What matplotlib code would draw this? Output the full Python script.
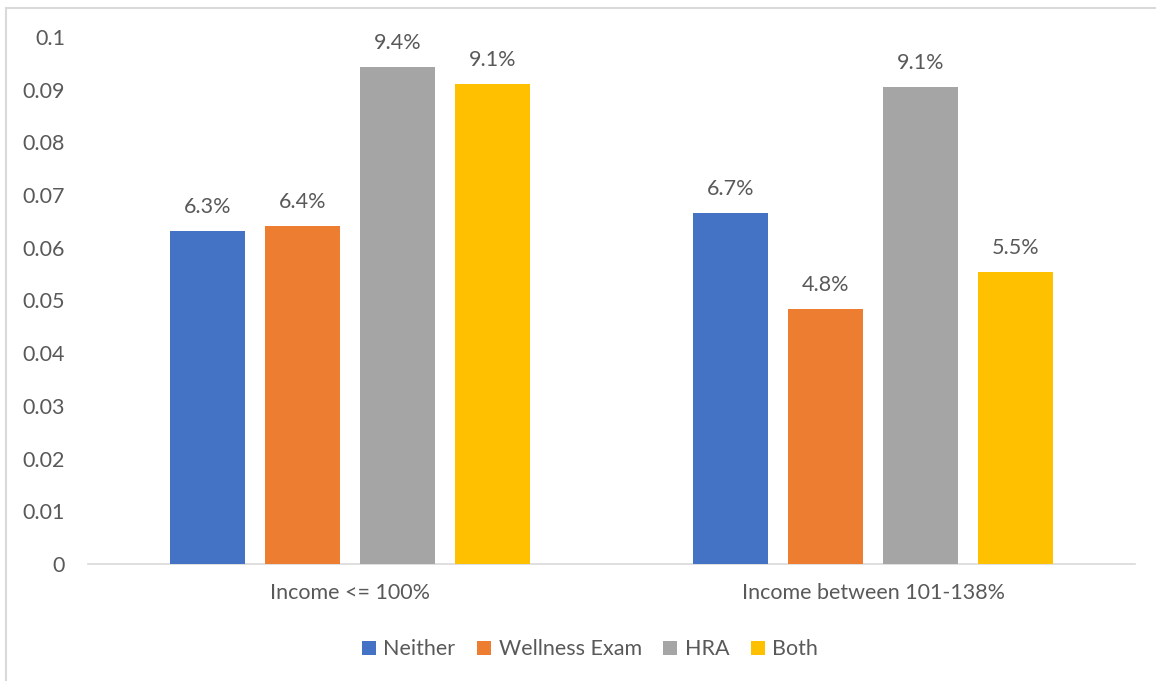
import matplotlib
matplotlib.use("Agg")
import matplotlib.pyplot as plt
from matplotlib.patches import Rectangle
import numpy as np

categories = ["Income <= 100%", "Income between 101-138%"]
series_names = ["Neither", "Wellness Exam", "HRA", "Both"]
neither = [0.0632, 0.0666]
wellness_exam = [0.0641, 0.0484]
hra = [0.0943, 0.0906]
both = [0.0911, 0.0554]
colors = ["#4472C4", "#ED7D31", "#A5A5A5", "#FFC000"]
y_ticks = [0, 0.01, 0.02, 0.03, 0.04, 0.05, 0.06, 0.07, 0.08, 0.09, 0.1]
y_tick_labels = ["0", "0.01", "0.02", "0.03", "0.04", "0.05", "0.06", "0.07", "0.08", "0.09", "0.1"]

text_color = "#595959"
fs = 15.5
plt.rcParams["font.family"] = ["Lato", "DejaVu Sans"]

fig = plt.figure(figsize=(11.56, 6.81), dpi=100)
# outer chart frame
fig.patches.append(Rectangle((6 / 1156, -0.1), 1.2, 1 - 8 / 681 + 0.1,
                             transform=fig.transFigure, fill=False,
                             edgecolor="#D9D9D9", linewidth=1.5))

ax = fig.add_axes([88 / 1156, 1 - 564 / 681, (1135 - 88) / 1156, (564 - 37) / 681])

x = np.arange(len(categories))
width = 0.1433
step = 0.1815
all_series = [neither, wellness_exam, hra, both]
for i, (name, vals, c) in enumerate(zip(series_names, all_series, colors)):
    pos = x + (i - 1.5) * step
    bars = ax.bar(pos, vals, width=width, color=c, label=name, zorder=3)
    for b, v in zip(bars, vals):
        ax.annotate(f"{v:.1%}", (b.get_x() + b.get_width() / 2, v),
                    xytext=(0, 10), textcoords="offset points",
                    ha="center", va="bottom", fontsize=fs, color=text_color)

ax.set_xlim(-0.5, 1.5)
ax.set_ylim(0, 0.1)
ax.set_yticks(y_ticks)
ax.set_yticklabels(y_tick_labels)
ax.set_xticks(x)
ax.set_xticklabels(categories)
for s in ["top", "right", "left"]:
    ax.spines[s].set_visible(False)
ax.spines["bottom"].set_color("#D9D9D9")
ax.spines["bottom"].set_linewidth(1.2)
ax.tick_params(axis="y", length=0, pad=16.5, labelsize=fs, labelcolor=text_color)
ax.tick_params(axis="x", length=0, pad=14, labelsize=fs, labelcolor=text_color)

ax.legend(loc="center", bbox_to_anchor=(0.4795, -0.162), ncol=4, frameon=False,
          fontsize=fs, labelcolor=text_color, handlelength=0.65, handleheight=0.65,
          handletextpad=0.35, columnspacing=1.0)

fig.savefig("out.png", dpi=100)
